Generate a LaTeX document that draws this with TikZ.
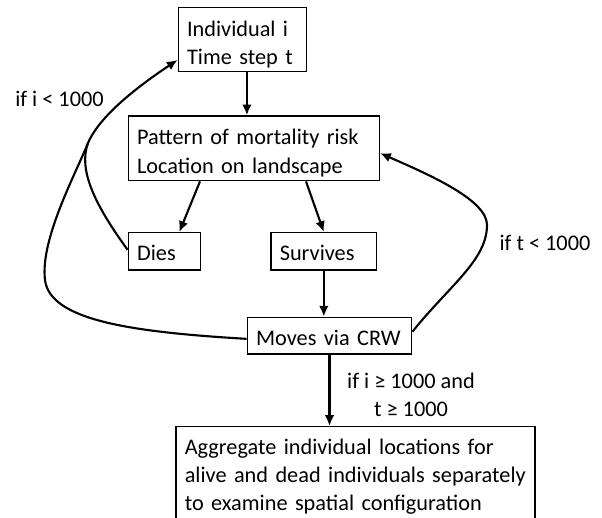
\documentclass[tikz,border=0pt]{standalone}
\usepackage{fontspec}
\setmainfont{Carlito}
\usetikzlibrary{arrows.meta}
\begin{document}
\begin{tikzpicture}[
  flowbox/.style={draw, line width=1pt, align=left, inner xsep=0.22cm, inner ysep=0.05cm},
  onelinebox/.style={flowbox, text height=0.5cm, text depth=0.02cm, minimum height=0.9325cm},
  flowarrow/.style={draw, line width=1.5pt, -{Latex[length=0.27cm,width=0.24cm]}},
  flowline/.style={draw, line width=1.5pt},
  every node/.style={font=\fontsize{15.85}{20}\selectfont}]
\path[use as bounding box] (0,0) rectangle (15.05,-12.925);

\node[flowbox, text width=2.77cm, minimum height=1.61cm] (indiv) at (6.0625,-0.9875) {\rule{0pt}{0.62cm}Individual i\\Time step t};
\node[flowbox, text width=5.835cm, minimum height=1.6175cm] (pattern) at (6.345,-3.709) {\rule{0pt}{0.62cm}Pattern of mortality risk\\Location on landscape};
\node[onelinebox, text width=1.37cm] (dies) at (4.1125,-6.284) {Dies};
\node[onelinebox, text width=2.2025cm] (survives) at (8.096,-6.284) {Survives};
\node[onelinebox, text width=3.67cm, minimum height=0.9175cm] (moves) at (8.2375,-8.391) {Moves via CRW};
\node[flowbox, text width=8.535cm, inner ysep=0.3cm, anchor=north] (aggregate) at (8.8875,-10.65) {Aggregate individual locations for\\alive and dead individuals separately\\to examine spatial configuration};

\path[flowarrow] ([xshift=0.11cm]indiv.south) -- ([xshift=0.11cm]indiv.south |- pattern.north);
\path[flowarrow] ([xshift=-1.345cm]pattern.south) -- ([xshift=0.37cm]dies.north);
\path[flowarrow] ([xshift=1.305cm]pattern.south) -- (survives.north);
\path[flowarrow] (survives.south) -- (survives.south |- moves.north);
\path[flowarrow] (moves.south) -- (moves.south |- aggregate.north);

\coordinate (join) at (2.2,-3.575);
\draw[flowarrow] ([yshift=-0.08cm]moves.west) .. controls (3.25,-8.3) and (1.25,-8.0) .. (1.125,-7.0)
  .. controls (1.0,-6.0) and (1.875,-4.375) .. (join)
  .. controls (2.5,-2.875) and (3.5,-2.125) .. ([yshift=-0.51cm]indiv.west);
\draw[flowline] ([yshift=0.04cm]dies.west) .. controls (2.375,-5.125) and (1.95,-4.25) .. (join);

\draw[flowarrow] ([yshift=0.1cm]moves.east) .. controls (11.25,-7.125) and (12.175,-6.5) .. (12.175,-5.625)
  .. controls (12.175,-5.0) and (10.75,-4.375) .. ([yshift=-0.12cm]pattern.east);

\node[anchor=base west, inner sep=0] (ilabel) at (0.375,-2.6675) {if i < 1000};
\node[anchor=base west, inner sep=0] (tlabel) at (12.4825,-6.25) {if t < 1000};
\node[align=center, inner sep=0] (endlabel) at (10.275,-9.86) {if i ≥ 1000 and\\t ≥ 1000};
\end{tikzpicture}
\end{document}
